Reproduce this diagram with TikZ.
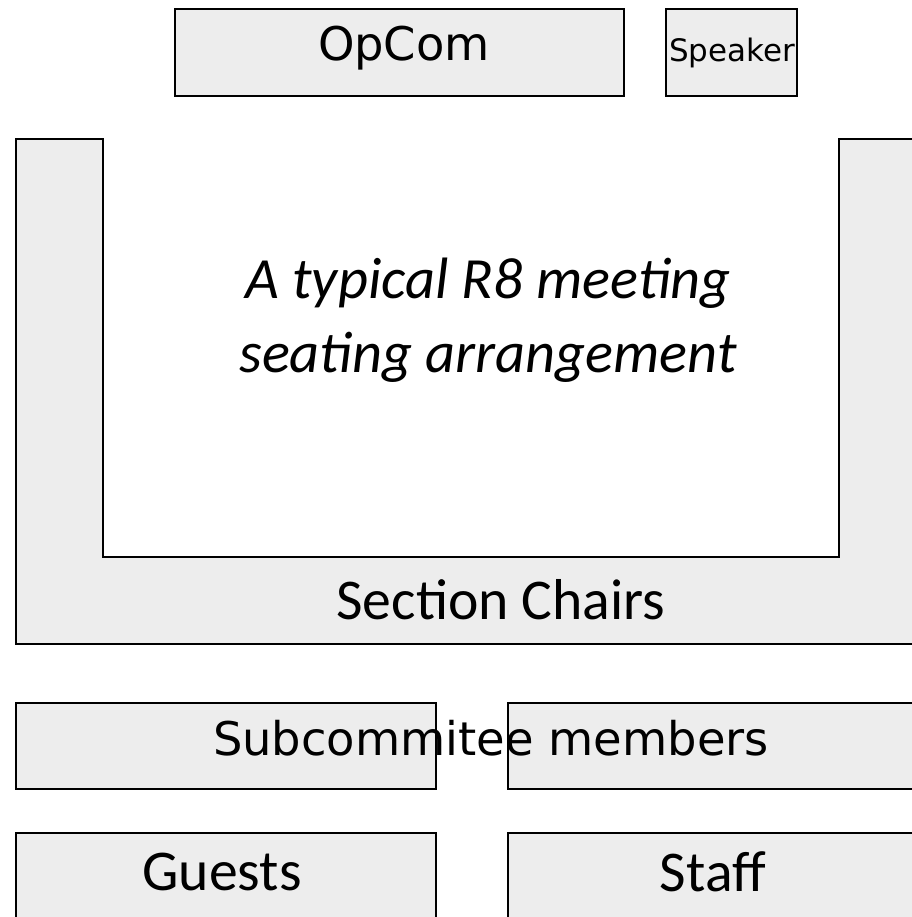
\documentclass[tikz,border=0pt]{standalone}
\usepackage{fontspec}
\setmainfont{Carlito}
\newfontfamily\dejavu{DejaVu Sans}
\usetikzlibrary{calc}
\tikzset{
  seat/.style={draw=black, fill=black!7, line width=1.6pt},
  bigtxt/.style={font=\fontsize{41}{50}\selectfont, inner sep=0pt},
  djtxt/.style={font=\dejavu\fontsize{33}{40}\selectfont, inner sep=0pt},
}
\begin{document}
\begin{tikzpicture}[x=0.025cm, y=-0.025cm]
			%%%%% START %%%%%
			\useasboundingbox (0, 0) rectangle (912, 917);
			\clip (0, 0) rectangle (912, 917);
			
			% front table
			\draw[seat] (175, 9) rectangle (624, 96);
			\node[djtxt] (opcom) at (404, 48) {OpCom};
			
			\draw[seat] (666, 9) rectangle (797, 96);
			\node[djtxt, font=\dejavu\fontsize{22}{26}\selectfont] (speaker) at (732, 53) {Speaker};
			
			% the U
			\draw[seat] (16, 139) -- (103, 139) -- (103, 557) -- (839, 557) -- (839, 139)
			  -- (930, 139) -- (930, 644) -- (16, 644) -- cycle;
			\node[bigtxt, font=\itshape\fontsize{41.5}{53}\selectfont, align=center] (title) at (488, 320)
			  {A typical R8 meeting\\seating arrangement};
			\node[bigtxt] (chairs) at (501, 600) {Section Chairs};
			
			% back rows
			\draw[seat] (16, 703) rectangle (436, 789);
			\draw[seat] (508, 703) rectangle (930, 789);
			\node[djtxt] (subcom) at (491, 738) {Subcommitee members};
			
			\draw[seat] (16, 833) rectangle (436, 940);
			\draw[seat] (508, 833) rectangle (930, 940);
			\node[bigtxt] (guests) at (222, 872) {Guests};
			\node[bigtxt] (staff) at (713, 872) {Staff};
			
			%%%%% END %%%%%
\end{tikzpicture}
\end{document}
